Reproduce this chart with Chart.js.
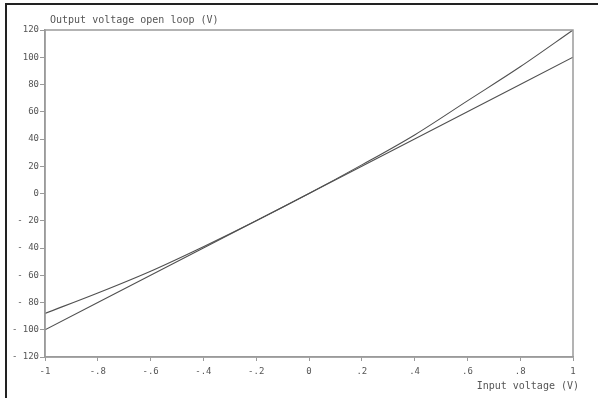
<!DOCTYPE html>
<html>
<head>
<meta charset="utf-8">
<script src="https://cdn.jsdelivr.net/npm/chart.js@4.4.1/dist/chart.umd.min.js"></script>
<style>
  html, body { margin: 0; padding: 0; background: #fff; }
  #wrap { width: 598px; height: 398px; position: relative; }
</style>
</head>
<body>
<div id="wrap"><canvas id="chart" width="598" height="398"></canvas></div>
<script>
// values
const inputVoltage = [-1, -0.8, -0.6, -0.4, -0.2, 0, 0.2, 0.4, 0.6, 0.8, 1];
const outputNonlinear = [-88, -73, -57, -39, -20, 0, 21, 43, 68, 93, 120];
const outputLinear = [-100, -80, -60, -40, -20, 0, 20, 40, 60, 80, 100];
const xTicks = [-1, -0.8, -0.6, -0.4, -0.2, 0, 0.2, 0.4, 0.6, 0.8, 1];
const yTicks = [-120, -100, -80, -60, -40, -20, 0, 20, 40, 60, 80, 100, 120];

const yTitle = 'Output voltage open loop (V)';
const xTitle = 'Input voltage (V)';

const font = "'DejaVu Sans Mono', monospace";
const lineColor = '#505050';
const axisColor = '#9a9a9a';

function toPoints(xs, ys) {
  return xs.map((x, i) => ({ x: x, y: ys[i] }));
}

function fmtX(v) {
  const r = Math.round(v * 10) / 10;
  if (r === 0 || Math.abs(r) === 1) return String(r);
  return (r < 0 ? '-' : '') + String(Math.abs(r)).replace(/^0/, '');
}

// frame, plot box and titles
const decorations = {
  id: 'decorations',
  beforeDraw(chart) {
    const ctx = chart.ctx;
    ctx.save();
    ctx.fillStyle = '#fff';
    ctx.fillRect(0, 0, chart.width, chart.height);
    ctx.fillStyle = '#222';
    ctx.fillRect(5, 3, chart.width, 2);
    ctx.fillRect(5, 3, 2, chart.height);
    ctx.restore();
  },
  afterDatasetsDraw(chart) {
    const ctx = chart.ctx;
    const a = chart.chartArea;
    ctx.save();
    ctx.strokeStyle = axisColor;
    ctx.lineWidth = 1.5;
    ctx.strokeRect(a.left, a.top, a.right - a.left, a.bottom - a.top);
    ctx.fillStyle = '#555';
    ctx.font = '10px ' + font;
    ctx.textBaseline = 'alphabetic';
    ctx.textAlign = 'left';
    ctx.fillText(yTitle, 50, 23);
    ctx.textAlign = 'right';
    ctx.fillText(xTitle, 579, 389);
    ctx.restore();
  }
};

new Chart(document.getElementById('chart'), {
  type: 'scatter',
  data: {
    datasets: [
      {
        data: toPoints(inputVoltage, outputNonlinear),
        showLine: true,
        borderColor: lineColor,
        borderWidth: 1.1,
        pointRadius: 0,
        tension: 0.4,
        cubicInterpolationMode: 'monotone'
      },
      {
        data: toPoints(inputVoltage, outputLinear),
        showLine: true,
        borderColor: lineColor,
        borderWidth: 1.1,
        pointRadius: 0
      }
    ]
  },
  plugins: [decorations],
  options: {
    responsive: false,
    animation: false,
    layout: { padding: { left: 0, top: 30, right: 25, bottom: 0 } },
    plugins: {
      legend: { display: false },
      tooltip: { enabled: false }
    },
    scales: {
      x: {
        type: 'linear',
        min: -1,
        max: 1,
        afterFit(scale) { scale.height = 41; },
        afterBuildTicks(scale) { scale.ticks = xTicks.map(v => ({ value: v })); },
        grid: { drawOnChartArea: false, tickLength: 4, color: axisColor },
        border: { color: axisColor, width: 1.5 },
        ticks: {
          color: '#555',
          font: { family: font, size: 9 },
          padding: 5,
          maxRotation: 0,
          autoSkip: false,
          callback: v => fmtX(v)
        }
      },
      y: {
        type: 'linear',
        min: -120,
        max: 120,
        afterFit(scale) { scale.width = 45; },
        afterBuildTicks(scale) { scale.ticks = yTicks.map(v => ({ value: v })); },
        grid: { drawOnChartArea: false, tickLength: 5, color: axisColor },
        border: { color: axisColor, width: 1.5 },
        ticks: {
          color: '#555',
          font: { family: font, size: 9 },
          padding: 1,
          autoSkip: false,
          callback: v => (v < 0 ? '- ' + Math.abs(v) : String(v))
        }
      }
    }
  }
});
</script>
</body>
</html>
